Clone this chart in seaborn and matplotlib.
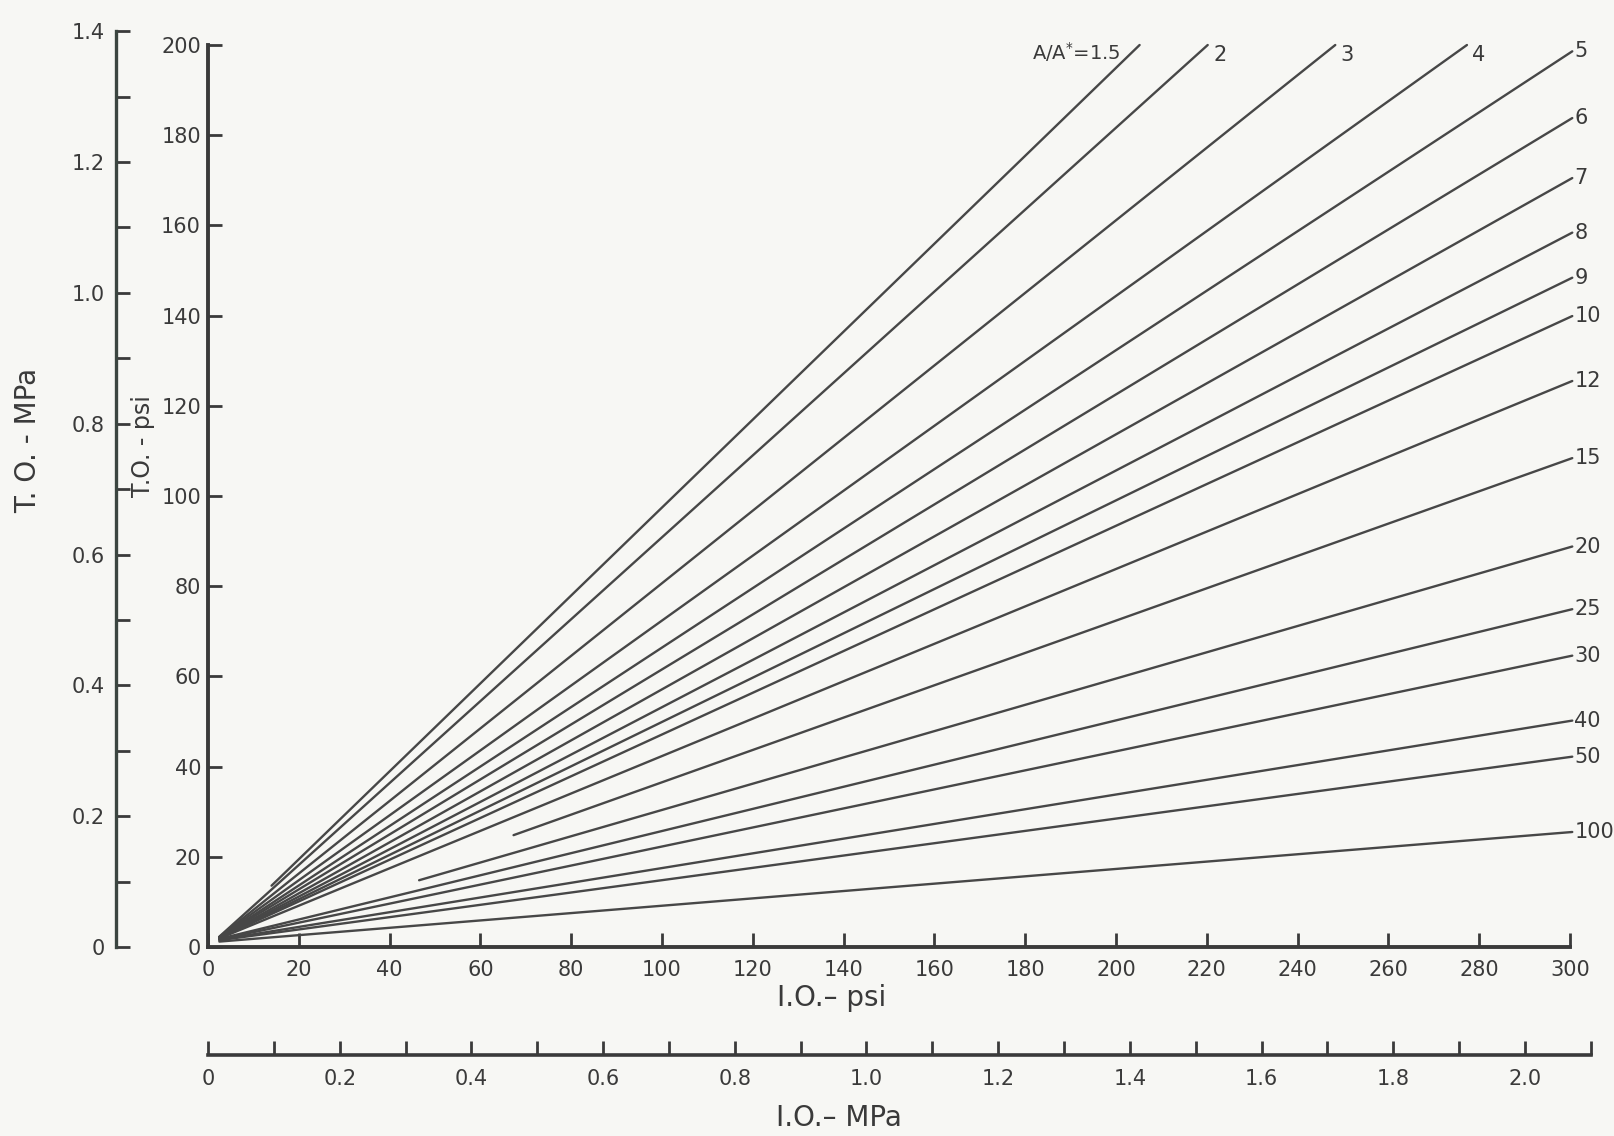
import numpy as np
import pandas as pd
import matplotlib
matplotlib.use("Agg")
import matplotlib.pyplot as plt
from matplotlib.ticker import FixedLocator, MultipleLocator, FuncFormatter
import seaborn as sns

PSI_PER_MPA = 145.038

# Area ratio A/A* of each line
area_ratio = ["1.5", "2", "3", "4", "5", "6", "7", "8", "9", "10",
              "12", "15", "20", "25", "30", "40", "50", "100"]

# I.O. and T.O. (psi) at the two ends of each line
io_start = [14.0, 2.5, 2.5, 2.5, 2.5, 2.5, 2.5, 2.5, 2.5, 2.5,
            2.5, 67.3, 46.5, 2.5, 2.5, 2.5, 2.5, 2.5]
to_start = [13.6, 2.3, 2.2, 2.2, 2.1, 2.1, 2.0, 2.0, 2.0, 2.0,
            1.9, 24.8, 14.8, 1.8, 1.7, 1.6, 1.5, 1.2]
io_end = [205.2, 220.2, 248.3, 277.3, 300.5, 300.5, 300.5, 300.5, 300.5, 300.5,
          300.5, 300.5, 300.5, 300.5, 300.5, 300.5, 300.5, 300.5]
to_end = [200.0, 200.0, 200.0, 200.0, 198.6, 183.8, 170.5, 158.4, 148.4, 139.9,
          125.5, 108.4, 88.8, 74.9, 64.6, 50.2, 42.2, 25.5]

psi_ticks_x = list(range(0, 301, 20))
psi_ticks_y = list(range(0, 201, 20))
mpa_ticks_y = [0, 0.2, 0.4, 0.6, 0.8, 1.0, 1.2, 1.4]
mpa_ticks_x = [0, 0.2, 0.4, 0.6, 0.8, 1.0, 1.2, 1.4, 1.6, 1.8, 2.0]
mpa_y_max = 1.4
mpa_x_max = 2.1

lines = pd.DataFrame({
    "ratio": np.repeat(area_ratio, 2),
    "io": np.column_stack([io_start, io_end]).ravel(),
    "to": np.column_stack([to_start, to_end]).ravel(),
})

sns.set_theme(style="ticks")
plt.rcParams["font.family"] = ["DejaVu Sans"]

INK = "#3a3a3a"
LINE = "#474747"
BG = "#f7f7f4"
TICK_FS = 15

W, H = 1614, 1136
fig = plt.figure(figsize=(W / 100, H / 100), dpi=100, facecolor=BG)


def box(x0, y0, x1, y1):
    """Axes rectangle from pixel edges (left, top, right, bottom)."""
    return [x0 / W, 1 - y1 / H, (x1 - x0) / W, (y1 - y0) / H]


def mpa_label(v, pos):
    return "0" if v == 0 else f"{v:.1f}"


# main psi axes
X0, X1, YT, YB = 208, 1570, 45, 947
ax = fig.add_axes(box(X0, YT, X1, YB))
ax.set_facecolor("none")
sns.lineplot(data=lines, x="io", y="to", units="ratio", estimator=None,
             sort=False, color=LINE, linewidth=1.7, clip_on=False,
             legend=False, ax=ax)
ax.set_xlim(0, 300)
ax.set_ylim(0, 200)
ax.set_xlabel("")
ax.set_ylabel("")
for side in ("top", "right"):
    ax.spines[side].set_visible(False)
for side in ("left", "bottom"):
    ax.spines[side].set_linewidth(2.8)
    ax.spines[side].set_color(INK)
ax.xaxis.set_major_locator(FixedLocator(psi_ticks_x))
ax.yaxis.set_major_locator(FixedLocator(psi_ticks_y))
ax.tick_params(axis="both", direction="in", length=10, width=2.0,
               color=INK, labelcolor=INK, labelsize=TICK_FS,
               bottom=True, left=True, top=False, right=False)
ax.tick_params(axis="x", pad=9)
ax.tick_params(axis="y", pad=5)

# line labels
for i, r in enumerate(area_ratio):
    x, y = io_end[i], to_end[i]
    if i == 0:
        ax.annotate(f"A/A$^{{*}}$={r}", (x, y), xytext=(-14, -5),
                    textcoords="offset points", ha="right", va="center",
                    fontsize=14, color=INK, annotation_clip=False)
    elif i <= 3:
        ax.annotate(r, (x, y), xytext=(4, -7), textcoords="offset points",
                    ha="left", va="center", fontsize=TICK_FS, color=INK,
                    annotation_clip=False)
    else:
        ax.annotate(r, (x, y), xytext=(1.5, 0), textcoords="offset points",
                    ha="left", va="center", fontsize=TICK_FS, color=INK,
                    annotation_clip=False)

# T.O. in MPa on a parallel axis further left, same scale as psi
px_per_psi_x = (X1 - X0) / 300
px_per_psi_y = (YB - YT) / 200
top_mpa = YB - mpa_y_max * PSI_PER_MPA * px_per_psi_y
axl = fig.add_axes(box(116, top_mpa, 117, YB))
axl.set_facecolor("none")
axl.set_ylim(0, mpa_y_max)
axl.set_xticks([])
for side in ("top", "right", "bottom"):
    axl.spines[side].set_visible(False)
axl.spines["left"].set_linewidth(2.4)
axl.spines["left"].set_color("#3b4540")
axl.yaxis.set_major_locator(FixedLocator(mpa_ticks_y))
axl.yaxis.set_minor_locator(MultipleLocator(0.1))
axl.yaxis.set_major_formatter(FuncFormatter(mpa_label))
axl.tick_params(axis="y", which="both", direction="in", length=10, width=2.0,
                color=INK, labelcolor=INK, labelsize=TICK_FS, pad=8,
                left=True, right=False)

# I.O. in MPa on a parallel axis below
right_mpa = X0 + mpa_x_max * PSI_PER_MPA * px_per_psi_x
axb = fig.add_axes(box(X0, 1054, right_mpa, 1055))
axb.set_facecolor("none")
axb.set_xlim(0, mpa_x_max)
axb.set_yticks([])
for side in ("top", "right", "left"):
    axb.spines[side].set_visible(False)
axb.spines["bottom"].set_linewidth(2.6)
axb.spines["bottom"].set_color(INK)
axb.xaxis.set_major_locator(FixedLocator(mpa_ticks_x))
axb.xaxis.set_minor_locator(MultipleLocator(0.1))
axb.xaxis.set_major_formatter(FuncFormatter(mpa_label))
axb.tick_params(axis="x", which="both", direction="in", length=10, width=2.0,
                color=INK, labelcolor=INK, labelsize=TICK_FS, pad=10,
                bottom=True, top=False)

# axis titles
fig.text(28 / W, 1 - 440 / H, "T. O. - MPa", rotation=90, ha="center",
         va="center", fontsize=20, color=INK)
fig.text(143 / W, 1 - 446 / H, "T.O. - psi", rotation=90, ha="center",
         va="center", fontsize=17, color=INK)
fig.text(832 / W, 1 - 998 / H, "I.O.– psi", ha="center", va="center",
         fontsize=20, color=INK)
fig.text(839 / W, 1 - 1118 / H, "I.O.– MPa", ha="center", va="center",
         fontsize=20, color=INK)

fig.savefig("out.png", dpi=100, facecolor=BG)
